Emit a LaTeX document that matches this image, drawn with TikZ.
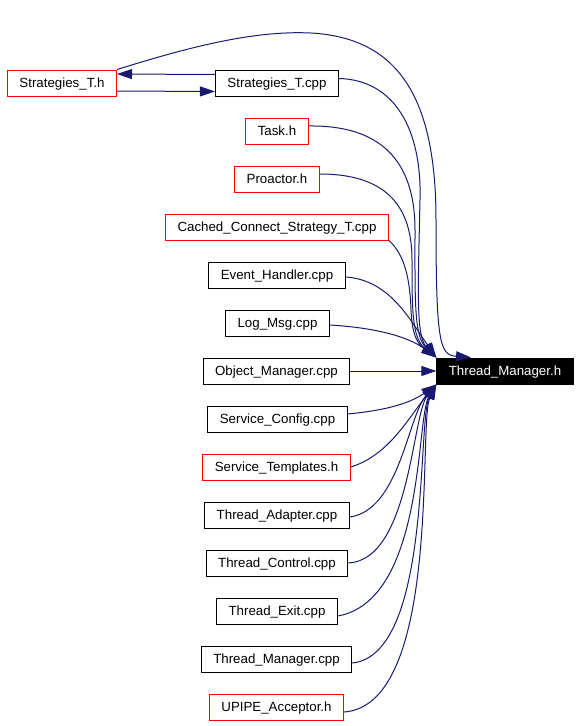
\documentclass[tikz,border=0pt]{standalone}
\usepackage{fontspec}
\setmainfont{Liberation Sans}
\usetikzlibrary{arrows.meta}
\definecolor{edgeblue}{HTML}{191970}
\tikzset{
	file/.style={rectangle, draw=black, line width=1pt, inner xsep=12pt, inner ysep=0pt, minimum height=26pt, text height=9.6pt, text depth=1.6pt, font=\fontsize{13.3}{15}\selectfont},
	missing/.style={file, draw=red},
	current/.style={file, fill=black, text=white},
	dep/.style={-{Triangle[length=15pt,width=10pt]}, draw=edgeblue, fill=none, line width=1pt}
}

\begin{document}
\begin{tikzpicture}[x=1pt, y=-1pt]
	\useasboundingbox (0,0) rectangle (580,726);
	\node at (62,83) [missing] (strath) {Strategies\_T.h};
	\node at (277,83.5) [file] (stratcpp) {Strategies\_T.cpp};
	\node at (277,131) [missing] (task) {Task.h};
	\node at (277,179) [missing] (proactor) {Proactor.h};
	\node at (277,227) [missing] (cached) {Cached\_Connect\_Strategy\_T.cpp};
	\node at (277,275) [file] (evh) {Event\_Handler.cpp};
	\node at (277.5,323) [file] (logmsg) {Log\_Msg.cpp};
	\node at (276.5,371) [file] (objmgr) {Object\_Manager.cpp};
	\node at (277.5,419) [file] (svccfg) {Service\_Config.cpp};
	\node at (276.5,467) [missing] (svctmpl) {Service\_Templates.h};
	\node at (277,515) [file] (thradapt) {Thread\_Adapter.cpp};
	\node at (277,563) [file] (thrctl) {Thread\_Control.cpp};
	\node at (277,611) [file] (threxit) {Thread\_Exit.cpp};
	\node at (276.5,659) [file] (thrmgrcpp) {Thread\_Manager.cpp};
	\node at (276.5,707) [missing] (upipe) {UPIPE\_Acceptor.h};
	\node at (505,371) [current] (thrmgrh) {Thread\_Manager.h};

	\draw [dep] ([yshift=-8]strath.east) -- ([yshift=-8]stratcpp.west);
	\draw [dep] ([yshift=9]stratcpp.west) -- ([yshift=9]strath.east);
	\draw [dep] (strath.north east) .. controls (180,50) and (250,30) .. (311,33) .. controls (400,38) and (436,100) .. (436,220) .. controls (436,345) and (440,355) .. ([xshift=-34]thrmgrh.north);
	\draw [dep] ([yshift=5]stratcpp.east) .. controls (395,80) and (422,130) .. (420,200) .. controls (418,290) and (416,336) .. (thrmgrh.north west);
	\draw [dep] ([yshift=5]task.east) .. controls (380,125) and (415,160) .. (415,230) .. controls (415,300) and (414,336) .. (thrmgrh.north west);
	\draw [dep] ([yshift=5]proactor.east) .. controls (390,174) and (412,210) .. (412,260) .. controls (412,310) and (412,338) .. (thrmgrh.north west);
	\draw [dep] (cached.south east) .. controls (405,255) and (410,280) .. (411,310) .. controls (412,330) and (415,342) .. (thrmgrh.north west);
	\draw [dep] ([yshift=-2]evh.east) .. controls (390,280) and (410,320) .. (thrmgrh.north west);
	\draw [dep] ([yshift=-2]logmsg.east) .. controls (380,328) and (410,338) .. (thrmgrh.north west);
	\draw [dep] (objmgr.east) -- (thrmgrh.west);
	\draw [dep] ([yshift=5]svccfg.east) .. controls (390,410) and (412,402) .. (thrmgrh.south west);
	\draw [dep] (svctmpl.east) .. controls (390,455) and (410,415) .. (thrmgrh.south west);
	\draw [dep] ([yshift=-2]thradapt.east) .. controls (400,510) and (408,415) .. (thrmgrh.south west);
	\draw [dep] (thrctl.east) .. controls (410,560) and (412,415) .. (thrmgrh.south west);
	\draw [dep] ([yshift=-5]threxit.east) .. controls (425,600) and (416,418) .. (thrmgrh.south west);
	\draw [dep] ([yshift=-4]thrmgrcpp.east) .. controls (432,655) and (417,420) .. (thrmgrh.south west);
	\draw [dep] ([yshift=-5]upipe.east) .. controls (442,705) and (418,422) .. (thrmgrh.south west);
\end{tikzpicture}
\end{document}
